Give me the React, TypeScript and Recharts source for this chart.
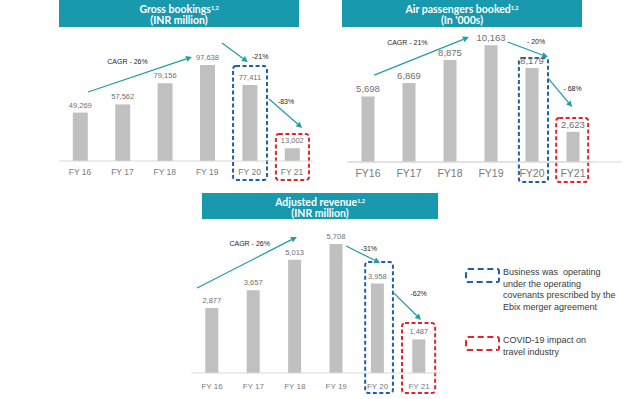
import React from 'react';
import {
  BarChart,
  Bar,
  XAxis,
  YAxis,
  LabelList,
  ReferenceLine,
  ReferenceArea,
  ReferenceDot,
} from 'recharts';

const yearsSpaced = ['FY 16', 'FY 17', 'FY 18', 'FY 19', 'FY 20', 'FY 21'];
const yearsCompact = ['FY16', 'FY17', 'FY18', 'FY19', 'FY20', 'FY21'];
const grossBookings = [49269, 57562, 79156, 97638, 77411, 13002];
const airPassengers = [5698, 6869, 8875, 10163, 8179, 2623];
const adjustedRevenue = [2877, 3657, 5013, 5708, 3958, 1487];

const TEAL = '#1899ad';
const ARROW = '#1f9ea8';
const BAR = '#c0c0c0';
const BLUE = '#1f5fa6';
const RED = '#e0232c';
const FONT = '"Liberation Sans", Arial, sans-serif';

type Pt = [number, number];
type ArrowDef = { from: Pt; to: Pt };
type NoteDef = { at: Pt; text: string };
type BoxDef = { x: Pt; y: Pt; color: string };

const ArrowShape = (p: any) => {
  const { x1, y1, x2, y2 } = p;
  const a = Math.atan2(y2 - y1, x2 - x1);
  const len = 6;
  const half = 3;
  const bx = x2 - len * Math.cos(a);
  const by = y2 - len * Math.sin(a);
  const pts = `${x2},${y2} ${bx + half * Math.sin(a)},${by - half * Math.cos(a)} ${bx - half * Math.sin(a)},${by + half * Math.cos(a)}`;
  return (
    <g>
      <line x1={x1} y1={y1} x2={bx} y2={by} stroke={ARROW} strokeWidth={1.3} />
      <polygon points={pts} fill={ARROW} />
    </g>
  );
};

function MiniBars(props: {
  left: number;
  top: number;
  width: number;
  height: number;
  margin: { top: number; right: number; bottom: number; left: number };
  labels: string[];
  values: number[];
  max: number;
  barSize: number;
  valueFont: number;
  tickFont: number;
  tickMargin?: number;
  labelOffset: number;
  arrows: ArrowDef[];
  notes: NoteDef[];
  boxes: BoxDef[];
  baselineTo?: number;
}) {
  const data = props.values.map((v, i) => ({ i, value: v }));
  return (
    <div style={{ position: 'absolute', left: props.left, top: props.top }}>
      <BarChart width={props.width} height={props.height} data={data} margin={props.margin}>
        <XAxis
          type="number"
          dataKey="i"
          domain={[-0.5, 5.5]}
          ticks={[0, 1, 2, 3, 4, 5]}
          interval={0}
          tickFormatter={(i: number) => props.labels[i]}
          tickLine={false}
          tickMargin={props.tickMargin ?? 2}
          height={20}
          axisLine={{ stroke: '#d9d9d9' }}
          tick={{ fontSize: props.tickFont, fill: '#7a7a7a', fontFamily: FONT }}
        />
        <YAxis hide domain={[0, props.max]} />
        {props.baselineTo !== undefined && (
          <ReferenceLine
            segment={[{ x: -0.5, y: 0 }, { x: props.baselineTo, y: 0 }]}
            stroke="#d9d9d9"
            ifOverflow="visible"
          />
        )}
        <Bar dataKey="value" fill={BAR} barSize={props.barSize} isAnimationActive={false}>
          <LabelList
            dataKey="value"
            position="top"
            offset={props.labelOffset}
            formatter={(v: any) => Number(v).toLocaleString('en-US')}
            style={{ fontSize: props.valueFont, fill: '#707070', fontFamily: FONT }}
          />
        </Bar>
        {props.boxes.map((b, k) => (
          <ReferenceArea
            key={'b' + k}
            x1={b.x[0]}
            x2={b.x[1]}
            y1={b.y[0]}
            y2={b.y[1]}
            ifOverflow="visible"
            shape={(p: any) => (
              <rect
                x={p.x}
                y={p.y}
                width={p.width}
                height={p.height}
                rx={3}
                fill="none"
                stroke={b.color}
                strokeWidth={2}
                strokeDasharray="4 2.5"
              />
            )}
          />
        ))}
        {props.arrows.map((a, k) => (
          <ReferenceLine
            key={'a' + k}
            segment={[{ x: a.from[0], y: a.from[1] }, { x: a.to[0], y: a.to[1] }]}
            ifOverflow="visible"
            shape={ArrowShape}
          />
        ))}
        {props.notes.map((n, k) => (
          <ReferenceDot
            key={'n' + k}
            x={n.at[0]}
            y={n.at[1]}
            r={0}
            ifOverflow="visible"
            shape={(p: any) => (
              <text
                x={p.cx}
                y={p.cy}
                textAnchor="middle"
                dominantBaseline="central"
                fontSize={7}
                fontFamily={FONT}
                fill="#262626"
              >
                {n.text}
              </text>
            )}
          />
        ))}
      </BarChart>
    </div>
  );
}

function Title(props: { left: number; top: number; width: number; height: number; title: string; unit: string }) {
  return (
    <div
      style={{
        position: 'absolute',
        left: props.left,
        top: props.top,
        width: props.width,
        height: props.height,
        background: TEAL,
        color: '#fff',
        fontFamily: 'Lato, "Liberation Sans", sans-serif',
        fontWeight: 700,
        fontSize: 10.5,
        lineHeight: '11px',
        textAlign: 'center',
        paddingTop: 3.5,
        boxSizing: 'border-box',
      }}
    >
      <div>
        {props.title}
        <sup style={{ fontSize: 5.5, verticalAlign: 'top', lineHeight: '8px' }}>1,2</sup>
      </div>
      <div>{props.unit}</div>
    </div>
  );
}

function LegendItem(props: { top: number; color: string; lines: string[] }) {
  return (
    <>
      <div
        style={{
          position: 'absolute',
          left: 465,
          top: props.top,
          width: 35,
          height: 15,
          border: `2px dashed ${props.color}`,
          borderRadius: 3,
          boxSizing: 'border-box',
        }}
      />
      <div
        style={{
          position: 'absolute',
          left: 503,
          top: props.top - 0.7,
          fontFamily: FONT,
          fontSize: 9,
          lineHeight: '11.5px',
          color: '#3a3a3a',
          whiteSpace: 'pre',
        }}
      >
        {props.lines.map((l, k) => (
          <div key={k}>{l}</div>
        ))}
      </div>
    </>
  );
}

export default function App() {
  return (
    <div
      style={{
        position: 'absolute',
        left: 0,
        top: 0,
        width: 625,
        height: 399,
        overflow: 'hidden',
        background: '#fff',
      }}
    >
      <Title left={59} top={0} width={240} height={27} title="Gross bookings" unit="(INR million)" />
      <Title left={342} top={0} width={240} height={27} title="Air passengers booked" unit="(In '000s)" />
      <Title left={202} top={193} width={236} height={26} title="Adjusted revenue" unit="(INR million)" />

      <MiniBars
        left={0}
        top={0}
        width={320}
        height={190}
        margin={{ top: 62.7, right: 6.8, bottom: 9, left: 58.8 }}
        labels={yearsSpaced}
        values={grossBookings}
        max={100000}
        barSize={15}
        valueFont={7.5}
        tickFont={8.5}
        labelOffset={5}
        arrows={[
          { from: [0.19, 70200], to: [2.64, 105800] },
          { from: [3.35, 120000], to: [3.96, 100700] },
          { from: [4.46, 63000], to: [5.24, 33600] },
        ]}
        notes={[
          { at: [1.12, 101700], text: 'CAGR  - 26%' },
          { at: [4.25, 105800], text: '-21%' },
          { at: [4.86, 61000], text: '-83%' },
        ]}
        boxes={[
          { x: [3.61, 4.41], y: [96600, -19300], color: BLUE },
          { x: [4.62, 5.4], y: [27500, -19300], color: RED },
        ]}
      />

      <MiniBars
        left={320}
        top={0}
        width={305}
        height={190}
        margin={{ top: 24, right: 31.5, bottom: 8, left: 27.5 }}
        labels={yearsCompact}
        values={airPassengers}
        max={12000}
        barSize={13}
        valueFont={9.5}
        tickFont={10.5}
        labelOffset={4}
        baselineTo={6.2}
        arrows={[
          { from: [0.15, 7560], to: [2.46, 10860] },
          { from: [3.41, 10430], to: [4.39, 9120] },
          { from: [4.39, 7300], to: [4.98, 4780] },
        ]}
        notes={[
          { at: [0.96, 10430], text: 'CAGR  - 21%' },
          { at: [4.1, 10510], text: '- 20%' },
          { at: [4.99, 6430], text: '- 68%' },
        ]}
        boxes={[
          { x: [3.68, 4.39], y: [9040, -1740], color: BLUE },
          { x: [4.59, 5.37], y: [3820, -1740], color: RED },
        ]}
      />

      <MiniBars
        left={180}
        top={190}
        width={265}
        height={209}
        margin={{ top: 47.4, right: 5.3, bottom: 6, left: 11.3 }}
        labels={yearsSpaced}
        values={adjustedRevenue}
        max={6000}
        barSize={13}
        valueFont={7.5}
        tickFont={8}
        tickMargin={4}
        labelOffset={5}
        arrows={[
          { from: [-0.36, 3760], to: [2.05, 6020] },
          { from: [3.24, 5620], to: [4.06, 4870] },
          { from: [4.37, 3580], to: [5.05, 2350] },
        ]}
        notes={[
          { at: [0.91, 5710], text: 'CAGR  - 26%' },
          { at: [3.79, 5490], text: '-31%' },
          { at: [4.99, 3500], text: '-62%' },
        ]}
        boxes={[
          { x: [3.7, 4.37], y: [4910, -885], color: BLUE },
          { x: [4.59, 5.39], y: [2210, -885], color: RED },
        ]}
      />

      <LegendItem
        top={268}
        color={BLUE}
        lines={[
          'Business was  operating',
          'under the operating',
          'covenants prescribed by the',
          'Ebix merger agreement',
        ]}
      />
      <LegendItem top={336} color={RED} lines={['COVID-19 impact on', 'travel industry']} />
    </div>
  );
}
